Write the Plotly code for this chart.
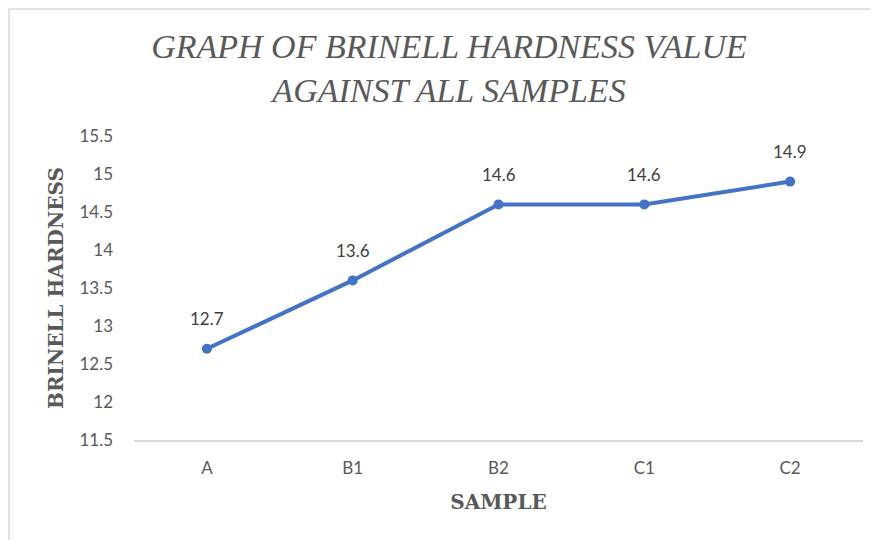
import plotly.graph_objects as go

samples = ["A", "B1", "B2", "C1", "C2"]
hardness = [12.7, 13.6, 14.6, 14.6, 14.9]
y_ticks = [11.5, 12, 12.5, 13, 13.5, 14, 14.5, 15, 15.5]
y_ticktext = ["11.5", "12", "12.5", "13", "13.5", "14", "14.5", "15", "15.5"]

# page body adds an 8px offset, so the figure is 8px smaller
W, H = 870, 532
L, R, T, B = 126, 15, 128, 100
pw, ph = W - L - R, H - T - B

fig = go.Figure()
fig.add_trace(go.Scatter(
    x=samples, y=hardness, mode="lines+markers",
    line=dict(color="#4472C4", width=4),
    marker=dict(color="#4472C4", size=10),
    cliponaxis=False, showlegend=False, hoverinfo="x+y",
))
for s, v in zip(samples, hardness):
    fig.add_annotation(x=s, y=v, text=f"{v:g}", showarrow=False,
                       yshift=30, font=dict(family="Lato, Open Sans, sans-serif", size=17, color="#404040"))

# outer chart border (top and left visible)
fig.add_shape(type="rect", xref="paper", yref="paper",
              x0=(1 - L) / pw, x1=(W + 5 - L) / pw,
              y0=((H - B) - (H + 5)) / ph, y1=((H - B) - 1) / ph,
              line=dict(color="#d9d9d9", width=1.5), fillcolor="rgba(0,0,0,0)", layer="below")

fig.update_layout(
    width=W, height=H,
    margin=dict(l=L, r=R, t=T, b=B),
    paper_bgcolor="white", plot_bgcolor="white",
    title=dict(
        text="GRAPH OF BRINELL HARDNESS VALUE<br>AGAINST ALL SAMPLES",
        x=441 / W, xanchor="center", y=1 - 50 / H, yanchor="middle",
        font=dict(family="Liberation Serif, serif", size=34, color="#595959", style="italic"),
    ),
    xaxis=dict(
        type="category", range=[-0.5, 4.5], showgrid=False, zeroline=False,
        showline=True, linecolor="#d9d9d9", linewidth=1.5,
        ticks="", ticklabelstandoff=12,
        tickfont=dict(family="Lato, Open Sans, sans-serif", size=17, color="#595959"),
        title=dict(text="<b>SAMPLE</b>", standoff=18,
                   font=dict(family="DejaVu Serif, serif", size=20, color="#595959")),
    ),
    yaxis=dict(
        range=[11.5, 15.5], tickvals=y_ticks, ticktext=y_ticktext,
        showgrid=False, zeroline=False, showline=False,
        ticks="", ticklabelstandoff=20,
        tickfont=dict(family="Lato, Open Sans, sans-serif", size=17, color="#595959"),
        title=dict(text="<b>BRINELL HARDNESS</b>", standoff=10,
                   font=dict(family="DejaVu Serif, serif", size=20, color="#595959")),
    ),
)

fig.write_html("out.html")
